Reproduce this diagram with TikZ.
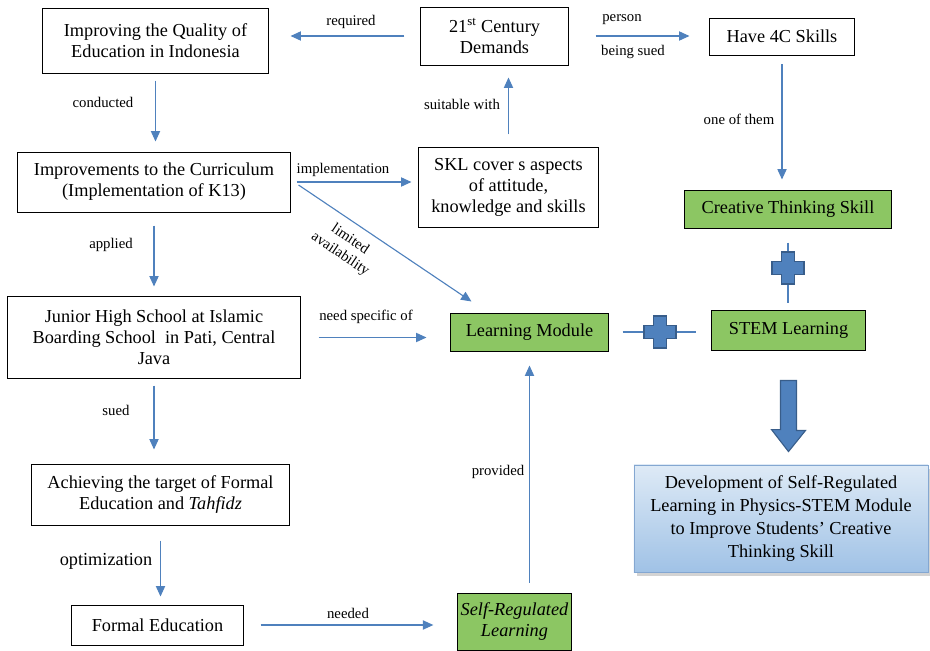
\documentclass[tikz,border=0pt]{standalone}
\usepackage{fontspec}
\setmainfont{Liberation Serif}
\usetikzlibrary{arrows.meta,positioning,calc,shadows}
\definecolor{lineblue}{RGB}{79,129,189}
\definecolor{darkblue}{RGB}{56,93,138}
\definecolor{modgreen}{RGB}{140,198,99}
\definecolor{toplight}{RGB}{222,234,246}
\definecolor{botblue}{RGB}{160,194,230}
\newcommand\mainsz{\fontsize{13}{15}\selectfont}
\newcommand\lblsz{\fontsize{10.5}{12.5}\selectfont}
\tikzset{
  box/.style={draw,line width=0.7pt,align=center,inner sep=2pt,font=\mainsz},
  gbox/.style={box,fill=modgreen},
  devbox/.style={draw=lineblue!70,line width=0.6pt,top color=toplight,bottom color=botblue,
    align=center,font=\fontsize{13}{16.3}\selectfont,
    drop shadow={opacity=0.35,shadow xshift=2pt,shadow yshift=-2.5pt}},
  arr/.style={draw=lineblue,line width=0.8pt,-{Triangle[length=2.6mm,width=2.3mm]}},
  link/.style={draw=lineblue,line width=0.8pt},
  lbl/.style={font=\lblsz,inner sep=1pt},
  crossmark/.pic={
    \filldraw[fill=lineblue,draw=darkblue,line width=1pt]
      (-6.5,-16) -- (6.5,-16) -- (6.5,-6.5) -- (16,-6.5) -- (16,6.5) -- (6.5,6.5)
      -- (6.5,16) -- (-6.5,16) -- (-6.5,6.5) -- (-16,6.5) -- (-16,-6.5) -- (-6.5,-6.5) -- cycle;
  },
}

\begin{document}
\begin{tikzpicture}[x=0.025cm,y=-0.025cm]
  \useasboundingbox (0,0) rectangle (930,651);
  \node[box,minimum width=5.625cm,minimum height=1.6cm] (qual) at (155.5,41) {Improving the Quality of\\Education in Indonesia};
  \node[box,minimum width=3.675cm,minimum height=1.45cm] (cent) at (494.5,36) {21\textsuperscript{st} Century\\Demands};
  \node[box,minimum width=3.6cm,minimum height=0.925cm] (skills) at (782,36.5) {Have 4C Skills};
  \node[box,minimum width=6.8cm,minimum height=1.5cm] (curr) at (154,182) {Improvements to the Curriculum\\(Implementation of K13)};
  \node[box,minimum width=4.475cm,minimum height=1.975cm] (skl) at (508.5,187.5) {SKL cover s aspects\\of attitude,\\knowledge and skills};
  \node[gbox,minimum width=5.15cm,minimum height=0.95cm] (creat) at (788,209) {Creative Thinking Skill};
  \node[box,minimum width=7.3cm,minimum height=2.025cm] (jhs) at (154,337.5) {Junior High School at Islamic\\Boarding School\ \ in Pati, Central\\Java};
  \node[gbox,minimum width=3.925cm,minimum height=0.95cm] (lmod) at (529.5,332) {Learning Module};
  \node[gbox,minimum width=3.825cm,minimum height=1cm] (stem) at (788.5,330) {STEM Learning};
  \node[devbox,minimum width=7.35cm,minimum height=2.675cm] (dev) at (781,518.5) {Development of Self-Regulated\\Learning in Physics-STEM Module\\to Improve Students’ Creative\\Thinking Skill};
  \node[box,minimum width=6.425cm,minimum height=1.525cm] (target) at (160.5,494.5) {Achieving the target of Formal\\Education and \textit{Tahfidz}};
  \node[box,minimum width=4.275cm,minimum height=1cm] (formal) at (157.5,625) {Formal Education};
  \node[gbox,minimum width=2.725cm,minimum height=1.425cm] (srl) at (514.5,621.5) {\textit{Self-Regulated}\\\textit{Learning}};

  \draw[arr,shorten <=0.4cm,shorten >=0.55cm] (cent.west) -- (cent.west -| qual.east);
  \draw[arr,shorten <=0.175cm,shorten >=0.25cm] (qual.south) -- (qual.south |- curr.north);
  \draw[arr,shorten <=0.675cm,shorten >=0.5cm] (cent.east) -- (cent.east -| skills.west);
  \draw[arr,shorten <=0.325cm,shorten >=0.3cm] (skl.north) -- (skl.north |- cent.south);
  \draw[arr,shorten <=0.225cm,shorten >=0.25cm] (skills.south) -- (skills.south |- creat.north);
  \draw[arr,shorten <=0.325cm,shorten >=0.25cm] (curr.south) -- (curr.south |- jhs.north);
  \draw[arr,shorten <=0.15cm,shorten >=0.175cm] (curr.east) -- (curr.east -| skl.west);
  \draw[arr] ($(curr.east)+(8,3)$) -- ($(lmod.north west)+(21,-11)$);
  \draw[arr,shorten <=0.45cm,shorten >=0.6cm] (jhs.east) -- (jhs.east -| lmod.west);
  \draw[arr,shorten <=0.175cm,shorten >=0.35cm] (jhs.south) -- (jhs.south |- target.north);
  \draw[arr,shorten <=0.375cm,shorten >=0.2cm] (target.south) -- (target.south |- formal.north);
  \draw[arr,shorten <=0.425cm,shorten >=0.6cm] (formal.east) -- (formal.east -| srl.west);
  \draw[arr,shorten <=0.25cm,shorten >=0.35cm] (lmod.south |- srl.north) -- (lmod.south);

  \draw[link,shorten <=0.35cm,shorten >=0.375cm] (lmod.east) -- (lmod.east -| stem.west);
  \pic at ($(lmod.east)!0.5!(lmod.east -| stem.west)$) {crossmark};
  \draw[link,shorten <=0.35cm,shorten >=0.175cm] (creat.south) -- (creat.south |- stem.north);
  \pic at ($(creat.south)!0.49!(creat.south |- stem.north)$) {crossmark};

  \path (stem.south) ++(0,30) coordinate (bigtop);
  \path (dev.north -| stem.south) ++(0,-13) coordinate (bigtip);
  \filldraw[fill=lineblue,draw=darkblue,line width=0.8pt] (bigtop) ++(-8,0) -- ++(16,0) -- ++(0,50) -- ++(9,0)
    -- (bigtip) -- ++(-17,-22) -- ++(9,0) -- cycle;

  \node[lbl] (lreq) at (351,22) {required};
  \node[lbl] (lcond) at (103,102) {conducted};
  \node[lbl] (lpers) at (622,20) {person};
  \node[lbl] (lsued) at (633,52) {being sued};
  \node[lbl] (lsuit) at (462,104) {suitable with};
  \node[lbl] (lone) at (739,119) {one of them};
  \node[lbl] (limpl) at (343,170) {implementation};
  \node[lbl,rotate=-34,align=center] (llim) at (345,247) {limited\\availability};
  \node[lbl] (lappl) at (111,245) {applied};
  \node[lbl] (lneed) at (366,317) {need specific of};
  \node[lbl] (lsue) at (116,410) {sued};
  \node[lbl,font=\mainsz] (lopt) at (106,561) {optimization};
  \node[lbl] (lnd) at (348,613) {needed};
  \node[lbl] (lprov) at (498,472) {provided};
\end{tikzpicture}
\end{document}
